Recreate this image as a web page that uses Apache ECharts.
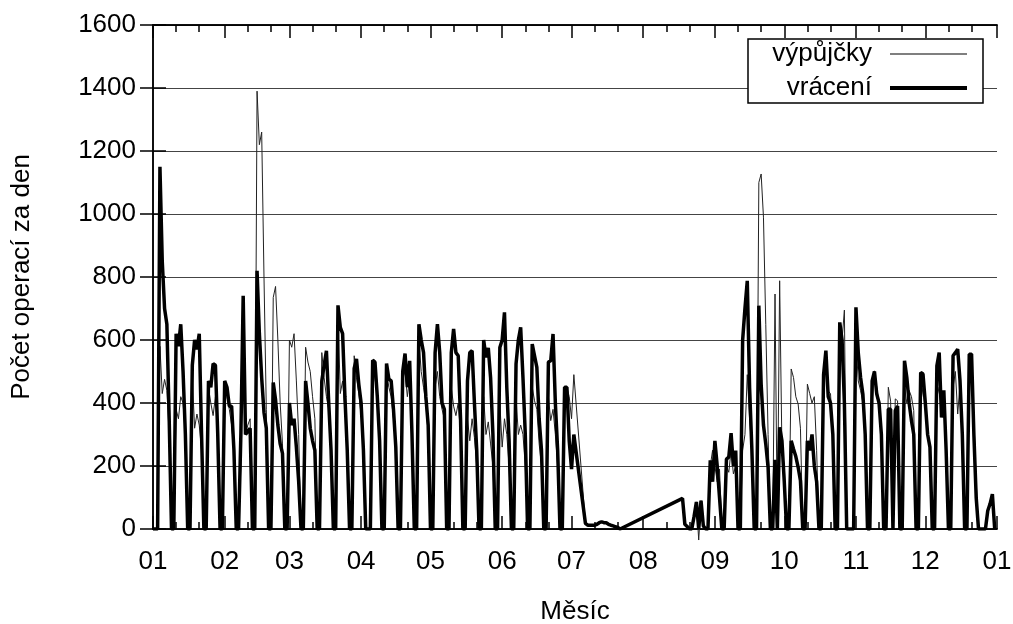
<!DOCTYPE html>
<html>
<head>
<meta charset="utf-8">
<script src="https://cdn.jsdelivr.net/npm/echarts@6/dist/echarts.min.js"></script>
<style>
  html, body { margin: 0; padding: 0; background: #fff; }
  #chart { width: 1013px; height: 624px; }
</style>
</head>
<body>
<div id="chart"></div>
<script>
// den v roce 2010 (0 = 1. ledna), radky po tydnech: Pa, So, Ne, Po, Ut, St, Ct
var vypujcky = [
    0,0,0, 580,430,475,440,
    300,0,0, 380,350,420,400,
    300,0,0, 480,320,365,330,
    250,0,0, 450,400,360,420,
    300,0,0, 470,420,380,330,
    250,0,0, 200,700,300,330,
    350,0,0, 1390,1220,1260,800,
    380,0,0, 735,770,600,400,
    270,0,0, 600,577,620,470,
    300,0,0, 577,530,500,420,
    350,0,0, 560,480,420,380,
    250,0,0, 680,430,470,380,
    280,0,0, 550,480,430,360,
    300,0,0, 0,500,480,420,
    300,0,0, 500,450,420,350,
    250,0,0, 480,500,420,480,
    300,0,0, 600,500,450,400,
    300,0,0, 450,500,420,380,
    350,0,0, 450,390,360,400,
    300,0,0, 350,280,350,290,
    200,0,0, 420,300,340,270,
    200,0,0, 400,260,350,300,
    200,0,0, 420,300,330,300,
    200,0,0, 450,407,380,270,
    200,0,0, 420,344,380,300,
    200,0,0, 430,450,420,350,
    490,null,null,null,null,20,12,
    12,12,12,15,20,23,20,
    20,15,12,10,7,5,0,
    null,null,null,null,null,null,null,
    null,null,null,null,null,null,null,
    null,null,null,null,null,null,null,
    null,null,null,null,null,97,15,
    8,0,0, 40,86,-35,90,
    10,0,0, 200,250,200,150,
    190,0,0, 200,180,250,175,
    200,0,0, 250,300,490,350,
    250,0,0, 1100,1127,990,650,
    300,0,0, 746,0,788,250,
    200,0,0, 508,481,420,397,
    320,0,0, 460,430,400,420,
    250,0,0, 480,520,438,430,
    300,0,0, 500,600,695,0,
    0,0,0, 600,470,440,400,
    280,0,0, 400,502,450,400,
    300,0,0, 450,406,0,413,
    407,0,0, 450,400,440,420,
    376,0,0, 400,450,380,300,
    250,0,0, 420,450,380,400,
    250,0,0, 450,500,365,460,
    300,0,0, 500,540,350,150,
    0,0,0, 0,60,80,100,
    0
];

var vraceni = [
    0,0,0, 1150,850,700,650,
    350,0,0, 620,580,650,500,
    300,0,0, 520,600,570,620,
    300,0,0, 470,450,525,520,
    300,0,0, 470,450,390,390,
    250,0,0, 300,740,300,310,
    320,0,0, 820,620,480,370,
    320,0,0, 465,410,330,270,
    240,0,0, 400,330,350,260,
    150,0,0, 470,400,320,280,
    250,0,0, 470,520,566,400,
    250,0,0, 710,640,620,420,
    250,0,0, 510,540,460,400,
    250,0,0, 0,536,530,420,
    280,0,0, 525,476,470,380,
    260,0,0, 500,557,450,534,
    300,0,0, 650,600,560,420,
    330,0,0, 560,650,560,400,
    380,0,0, 560,635,560,550,
    350,0,0, 470,560,566,400,
    250,0,0, 600,545,575,480,
    300,0,0, 576,600,688,450,
    280,0,0, 524,600,640,480,
    300,0,0, 587,550,513,350,
    250,0,0, 530,534,619,400,
    250,0,0, 450,450,280,190,
    300,null,null,null,null,18,12,
    12,12,12,15,20,23,20,
    20,15,12,10,7,5,0,
    null,null,null,null,null,null,null,
    null,null,null,null,null,null,null,
    null,null,null,null,null,null,null,
    null,null,null,null,null,97,15,
    8,0,0, 40,86,0,90,
    10,0,0, 218,150,280,200,
    100,0,0, 222,228,304,200,
    249,0,0, 600,700,788,450,
    250,0,0, 709,460,330,270,
    196,0,0, 220,0,323,280,
    150,0,0, 280,254,230,196,
    153,0,0, 280,250,300,200,
    150,0,0, 490,566,420,400,
    300,0,0, 656,600,400,0,
    0,0,0, 704,560,481,428,
    300,0,0, 470,500,428,400,
    300,0,0, 381,380,0,376,
    390,0,0, 534,481,400,344,
    300,0,0, 497,492,400,300,
    260,0,0, 518,560,354,440,
    250,0,0, 550,560,571,471,
    300,0,0, 555,555,300,100,
    0,0,0, 0,58,80,111,
    0
];

// zacatky mesicu (den v roce) a popisky osy x
var monthStarts = [0, 31, 59, 90, 120, 151, 181, 212, 243, 273, 304, 334, 365];
var monthLabels = ['01', '02', '03', '04', '05', '06', '07', '08', '09', '10', '11', '12', '01'];
var minorTicks = [10, 20, 41, 51, 69, 79, 100, 110, 130, 140, 161, 171, 191, 201,
                  222, 232, 253, 263, 283, 293, 314, 324, 344, 354];

function toPoints(arr) {
    var out = [];
    for (var i = 0; i < arr.length; i++) {
        out.push([i, arr[i]]);
    }
    return out;
}

var font = 'Liberation Sans';
var fs = 26;
var myChart = echarts.init(document.getElementById('chart'));

function xAxisDef(pos, ticks, len, withLabels) {
    return {
        type: 'value',
        position: pos,
        min: 0,
        max: 365,
        axisLine: { show: true, onZero: false, lineStyle: { color: '#000', width: 1.5 } },
        axisTick: { show: true, inside: true, length: len, customValues: ticks, lineStyle: { color: '#000', width: 1.5 } },
        axisLabel: {
            show: withLabels,
            customValues: monthStarts,
            margin: 20,
            color: '#000',
            fontFamily: font,
            fontSize: fs,
            formatter: function (v) {
                return monthLabels[monthStarts.indexOf(v)];
            }
        },
        splitLine: { show: false }
    };
}

var xMain = xAxisDef('bottom', monthStarts, 13, true);
xMain.name = 'Měsíc';
xMain.nameLocation = 'middle';
xMain.nameGap = 70;
xMain.nameTextStyle = { color: '#000', fontFamily: font, fontSize: fs };

var legendText = { color: '#000', fontFamily: font, fontSize: fs, padding: [0, 13, 0, 0] };

option = {
    animation: false,
    backgroundColor: '#fff',
    grid: { left: 153, right: 16, top: 25, bottom: 95, outerBoundsMode: 'none' },
    xAxis: [
        xMain,
        xAxisDef('bottom', minorTicks, 7, false),
        xAxisDef('top', monthStarts, 13, false),
        xAxisDef('top', minorTicks, 7, false)
    ],
    yAxis: [
        {
            type: 'value',
            position: 'left',
            min: 0,
            max: 1600,
            interval: 200,
            name: 'Počet operací za den',
            nameLocation: 'middle',
            nameGap: 118,
            nameTextStyle: { color: '#000', fontFamily: font, fontSize: fs },
            axisLine: { show: true, lineStyle: { color: '#000', width: 1.5 } },
            axisTick: { show: true, inside: true, length: 13, lineStyle: { color: '#000', width: 1.5 } },
            axisLabel: {
                color: '#000', fontFamily: font, fontSize: fs, margin: 17,
                formatter: function (v) { return String(v); }
            },
            splitLine: { show: true, lineStyle: { color: '#444', width: 1 } }
        },
        {
            type: 'value',
            position: 'right',
            min: 0,
            max: 1600,
            interval: 200,
            axisLine: { show: true, lineStyle: { color: '#000', width: 1.5 } },
            axisTick: { show: true, inside: true, length: 13, lineStyle: { color: '#000', width: 1.5 } },
            axisLabel: { show: false },
            splitLine: { show: false }
        }
    ],
    legend: [
        {
            data: [{ name: 'výpůjčky', icon: 'rect' }],
            right: 46,
            top: 41,
            padding: 0,
            itemWidth: 77,
            itemHeight: 1.3,
            align: 'right',
            z: 10,
            itemStyle: { color: '#555' },
            textStyle: legendText
        },
        {
            data: [{ name: 'vrácení', icon: 'rect' }],
            right: 46,
            top: 75,
            padding: 0,
            itemWidth: 77,
            itemHeight: 4,
            align: 'right',
            z: 10,
            itemStyle: { color: '#000' },
            textStyle: legendText
        }
    ],
    graphic: [
        {
            type: 'rect',
            shape: { x: 748, y: 39, width: 235, height: 64 },
            style: { fill: '#fff', stroke: '#000', lineWidth: 1.5 },
            z: 5
        }
    ],
    series: [
        {
            name: 'výpůjčky',
            type: 'line',
            data: toPoints(vypujcky),
            symbol: 'none',
            connectNulls: true,
            clip: false,
            lineStyle: { color: '#222', width: 1 },
            itemStyle: { color: '#222' },
            z: 3
        },
        {
            name: 'vrácení',
            type: 'line',
            data: toPoints(vraceni),
            symbol: 'none',
            connectNulls: true,
            lineStyle: { color: '#000', width: 3.5 },
            itemStyle: { color: '#000' },
            z: 4
        }
    ]
};

myChart.setOption(option);
</script>
</body>
</html>
